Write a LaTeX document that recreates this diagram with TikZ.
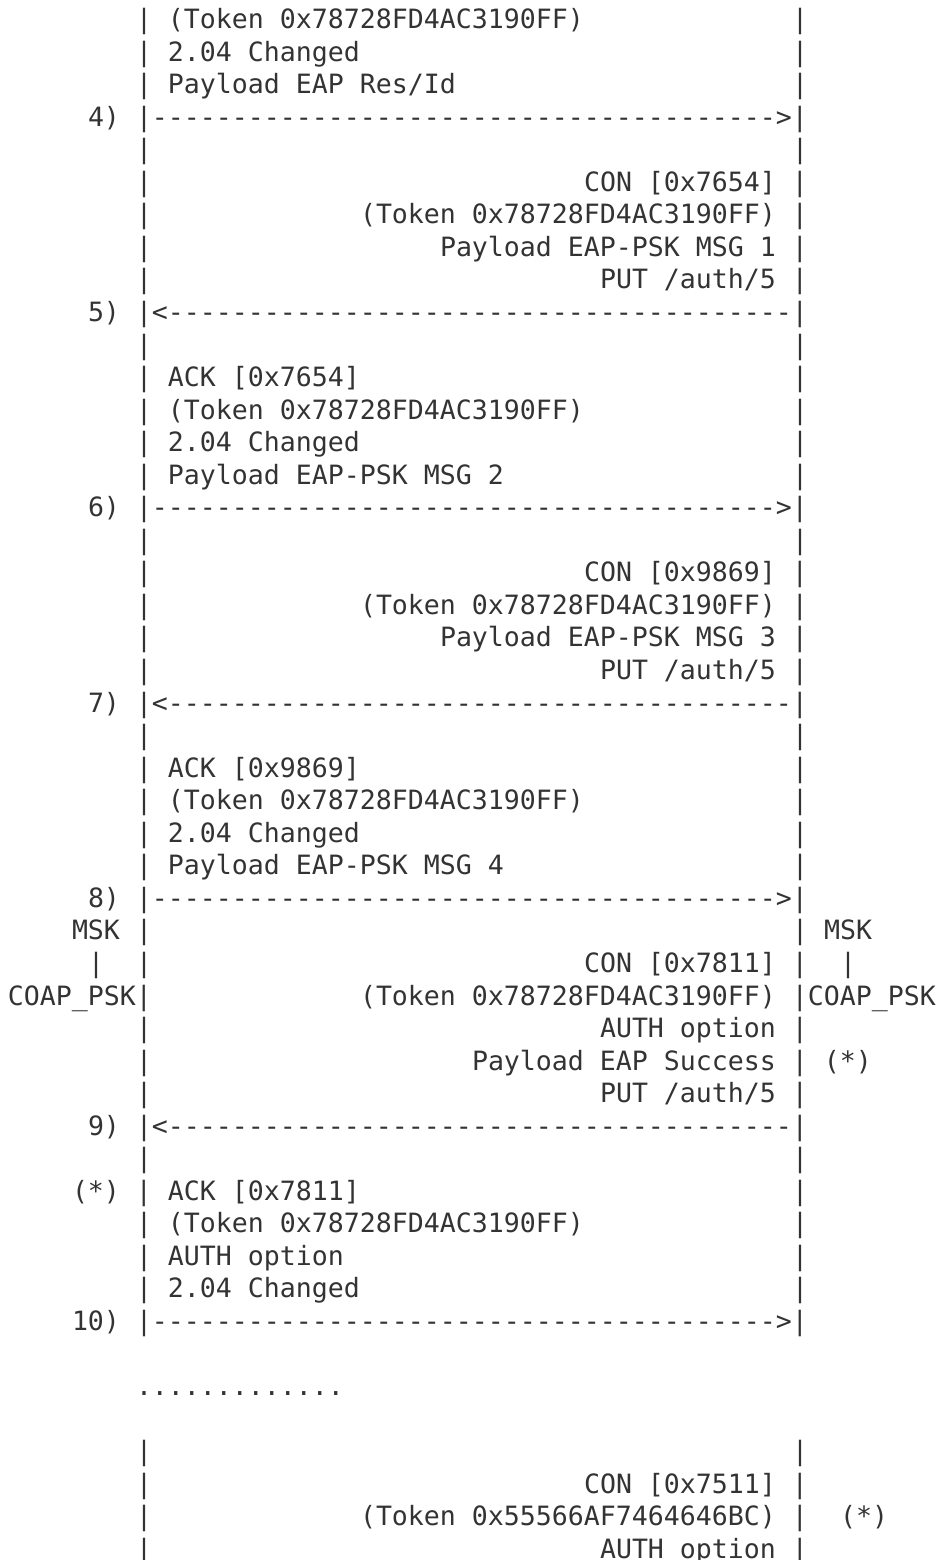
\documentclass[tikz,border=0pt]{standalone}
\usepackage{fontspec}
\setmonofont{DejaVu Sans Mono}
\definecolor{inkgray}{HTML}{333333}
\newcommand\asciifont{\ttfamily\fontsize{26.57pt}{32.55pt}\selectfont}
\newcommand\dashrun{---------------------------------------}
\tikzset{
  ascii/.style={anchor=base west, inner sep=0pt, outer sep=0pt, text=inkgray, font=\asciifont},
}

\begin{document}
\begin{tikzpicture}[x=16pt, y=-32.55pt]
  \useasboundingbox (-0.5,-0.8756) rectangle (57.9375,47.0504);
  % answer to MSG 0
  \node[ascii] (T0) at (8,0) {| (Token 0x78728FD4AC3190FF)};
  \node[ascii] (R0) at (49,0) {|};
  \node[ascii] (T1) at (8,1) {| 2.04 Changed};
  \node[ascii] (R1) at (49,1) {|};
  \node[ascii] (T2) at (8,2) {| Payload EAP Res/Id};
  \node[ascii] (R2) at (49,2) {|};
  \node[ascii] (N4) at (5,3) {4)};
  \node[ascii] (A4) at (8,3) {|\dashrun>|};
  \node[ascii] (L4) at (8,4) {|};
  \node[ascii] (R4) at (49,4) {|};
  % MSG 1
  \node[ascii] (L5) at (8,5) {|};
  \node[ascii] (T5) at (36,5) {CON [0x7654] |};
  \node[ascii] (L6) at (8,6) {|};
  \node[ascii] (T6) at (22,6) {(Token 0x78728FD4AC3190FF) |};
  \node[ascii] (L7) at (8,7) {|};
  \node[ascii] (T7) at (27,7) {Payload EAP-PSK MSG 1 |};
  \node[ascii] (L8) at (8,8) {|};
  \node[ascii] (T8) at (37,8) {PUT /auth/5 |};
  \node[ascii] (N5) at (5,9) {5)};
  \node[ascii] (A5) at (8,9) {|<\dashrun|};
  \node[ascii] (L10) at (8,10) {|};
  \node[ascii] (R10) at (49,10) {|};
  % MSG 2
  \node[ascii] (T11) at (8,11) {| ACK [0x7654]};
  \node[ascii] (R11) at (49,11) {|};
  \node[ascii] (T12) at (8,12) {| (Token 0x78728FD4AC3190FF)};
  \node[ascii] (R12) at (49,12) {|};
  \node[ascii] (T13) at (8,13) {| 2.04 Changed};
  \node[ascii] (R13) at (49,13) {|};
  \node[ascii] (T14) at (8,14) {| Payload EAP-PSK MSG 2};
  \node[ascii] (R14) at (49,14) {|};
  \node[ascii] (N6) at (5,15) {6)};
  \node[ascii] (A6) at (8,15) {|\dashrun>|};
  \node[ascii] (L16) at (8,16) {|};
  \node[ascii] (R16) at (49,16) {|};
  % MSG 3
  \node[ascii] (L17) at (8,17) {|};
  \node[ascii] (T17) at (36,17) {CON [0x9869] |};
  \node[ascii] (L18) at (8,18) {|};
  \node[ascii] (T18) at (22,18) {(Token 0x78728FD4AC3190FF) |};
  \node[ascii] (L19) at (8,19) {|};
  \node[ascii] (T19) at (27,19) {Payload EAP-PSK MSG 3 |};
  \node[ascii] (L20) at (8,20) {|};
  \node[ascii] (T20) at (37,20) {PUT /auth/5 |};
  \node[ascii] (N7) at (5,21) {7)};
  \node[ascii] (A7) at (8,21) {|<\dashrun|};
  \node[ascii] (L22) at (8,22) {|};
  \node[ascii] (R22) at (49,22) {|};
  % MSG 4
  \node[ascii] (T23) at (8,23) {| ACK [0x9869]};
  \node[ascii] (R23) at (49,23) {|};
  \node[ascii] (T24) at (8,24) {| (Token 0x78728FD4AC3190FF)};
  \node[ascii] (R24) at (49,24) {|};
  \node[ascii] (T25) at (8,25) {| 2.04 Changed};
  \node[ascii] (R25) at (49,25) {|};
  \node[ascii] (T26) at (8,26) {| Payload EAP-PSK MSG 4};
  \node[ascii] (R26) at (49,26) {|};
  \node[ascii] (N8) at (5,27) {8)};
  \node[ascii] (A8) at (8,27) {|\dashrun>|};
  % keys derived
  \node[ascii] (MSKl) at (4,28) {MSK};
  \node[ascii] (L28) at (8,28) {|};
  \node[ascii] (R28) at (49,28) {|};
  \node[ascii] (MSKr) at (51,28) {MSK};
  \node[ascii] (Kl) at (5,29) {|};
  \node[ascii] (L29) at (8,29) {|};
  \node[ascii] (T29) at (36,29) {CON [0x7811] |};
  \node[ascii] (Kr) at (52,29) {|};
  \node[ascii] (PSKl) at (0,30) {COAP\_PSK|};
  \node[ascii] (T30) at (22,30) {(Token 0x78728FD4AC3190FF) |COAP\_PSK};
  \node[ascii] (L31) at (8,31) {|};
  \node[ascii] (T31) at (37,31) {AUTH option |};
  \node[ascii] (L32) at (8,32) {|};
  \node[ascii] (T32) at (29,32) {Payload EAP Success | (*)};
  \node[ascii] (L33) at (8,33) {|};
  \node[ascii] (T33) at (37,33) {PUT /auth/5 |};
  \node[ascii] (N9) at (5,34) {9)};
  \node[ascii] (A9) at (8,34) {|<\dashrun|};
  \node[ascii] (L35) at (8,35) {|};
  \node[ascii] (R35) at (49,35) {|};
  % final ACK
  \node[ascii] (T36) at (4,36) {(*) | ACK [0x7811]};
  \node[ascii] (R36) at (49,36) {|};
  \node[ascii] (T37) at (8,37) {| (Token 0x78728FD4AC3190FF)};
  \node[ascii] (R37) at (49,37) {|};
  \node[ascii] (T38) at (8,38) {| AUTH option};
  \node[ascii] (R38) at (49,38) {|};
  \node[ascii] (T39) at (8,39) {| 2.04 Changed};
  \node[ascii] (R39) at (49,39) {|};
  \node[ascii] (N10) at (4,40) {10)};
  \node[ascii] (A10) at (8,40) {|\dashrun>|};
  \node[ascii] (gap) at (8,42) {.............};
  % later request
  \node[ascii] (L44) at (8,44) {|};
  \node[ascii] (R44) at (49,44) {|};
  \node[ascii] (L45) at (8,45) {|};
  \node[ascii] (T45) at (36,45) {CON [0x7511] |};
  \node[ascii] (L46) at (8,46) {|};
  \node[ascii] (T46) at (22,46) {(Token 0x55566AF7464646BC) |};
  \node[ascii] (S46) at (52,46) {(*)};
  \node[ascii] (L47) at (8,47) {|};
  \node[ascii] (T47) at (37,47) {AUTH option |};
\end{tikzpicture}
\end{document}
